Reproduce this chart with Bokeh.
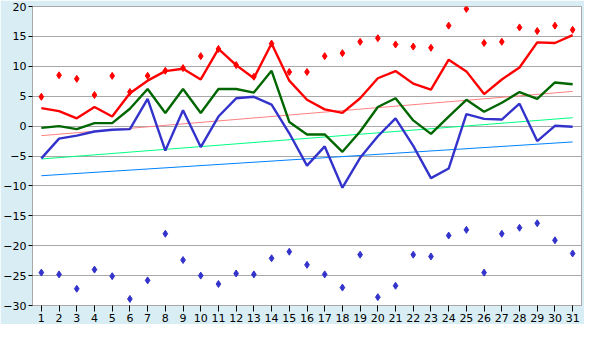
from bokeh.plotting import figure
from bokeh.models import FactorRange, Range1d, FixedTicker
from bokeh.embed import file_html
from bokeh.resources import INLINE

days = [str(d) for d in range(1, 32)]

t_max = [3.0, 2.5, 1.3, 3.2, 1.6, 5.5, 7.6, 9.2, 9.6, 7.8, 12.9, 10.2, 8.0, 13.8, 7.6, 4.4,
         2.8, 2.2, 4.65, 8.0, 9.2, 7.1, 6.1, 11.1, 9.15, 5.35, 7.8, 9.8, 14.0, 13.9, 15.2]
t_mean = [-0.3, 0.0, -0.5, 0.5, 0.5, 2.9, 6.2, 2.2, 6.2, 2.2, 6.2, 6.2, 5.6, 9.25, 0.7, -1.4,
          -1.4, -4.3, -0.9, 3.2, 4.65, 0.95, -1.3, 1.6, 4.4, 2.4, 3.9, 5.7, 4.55, 7.3, 7.0]
t_min = [-5.4, -2.1, -1.6, -0.9, -0.6, -0.5, 4.55, -4.1, 2.65, -3.5, 1.6, 4.65, 4.9, 3.6, -1.2, -6.6,
         -3.4, -10.3, -5.3, -1.7, 1.3, -3.3, -8.7, -7.1, 2.0, 1.2, 1.1, 3.75, -2.5, 0.05, -0.1]
rec_max = [4.9, 8.5, 7.9, 5.2, 8.4, 5.7, 8.4, 9.25, 9.7, 11.7, 12.9, 10.2, 8.25, 13.8, 9.05, 9.05,
           11.7, 12.2, 14.1, 14.7, 13.65, 13.3, 13.1, 16.8, 19.6, 13.9, 14.1, 16.5, 15.9, 16.8, 16.1]
rec_min = [-24.5, -24.8, -27.2, -24.0, -25.1, -28.9, -25.8, -18.0, -22.4, -25.0, -26.4, -24.65, -24.8,
           -22.1, -21.0, -23.2, -24.8, -27.0, -21.5, -28.6, -26.7, -21.5, -21.8, -18.3, -17.35, -24.5,
           -18.0, -17.0, -16.25, -19.1, -21.3]

trend_days = ["1", "31"]
trend_max = [-1.6, 5.8]
trend_mean = [-5.5, 1.4]
trend_min = [-8.3, -2.65]

y_ticks = [-30, -25, -20, -15, -10, -5, 0, 5, 10, 15, 20]

BG = "#D8EEF4"
p = figure(width=584, height=324, x_range=FactorRange(*days), y_range=Range1d(-30, 20),
           output_backend="svg", toolbar_location=None,
           background_fill_color="white", border_fill_color=BG,
           min_border_left=0, min_border_right=3, min_border_top=6, min_border_bottom=0)

p.outline_line_color = "#A8A8A8"
p.xgrid.grid_line_color = None
p.ygrid.grid_line_color = "#A8A8A8"
p.ygrid.grid_line_width = 1
p.yaxis.ticker = FixedTicker(ticks=y_ticks)
p.x_range.range_padding = 0

for ax in (p.xaxis, p.yaxis):
    ax.axis_line_color = "#A8A8A8"
    ax.major_tick_line_color = "black"
    ax.minor_tick_line_color = None
    ax.major_tick_in = 0
    ax.major_label_text_font = "DejaVu Sans"
    ax.major_label_text_font_size = "11px"
    ax.major_label_text_color = "black"
    ax.major_label_standoff = 2
p.xaxis.major_tick_out = 6
p.yaxis.major_tick_out = 4

# trend lines
p.line(trend_days, trend_max, color="#FF8080", line_width=1)
p.line(trend_days, trend_mean, color="#00FF80", line_width=1)
p.line(trend_days, trend_min, color="#0080FF", line_width=1)

# main series
p.line(days, t_max, color="#FF0000", line_width=2.4)
p.line(days, t_mean, color="#006600", line_width=2.4)
p.line(days, t_min, color="#3333CC", line_width=2.4)

# extremes
p.scatter(days, rec_max, marker="diamond", size=7, color="#FF0000")
p.scatter(days, rec_min, marker="diamond", size=7, color="#3333CC")

open("out.html", "w").write(file_html(p, INLINE))
